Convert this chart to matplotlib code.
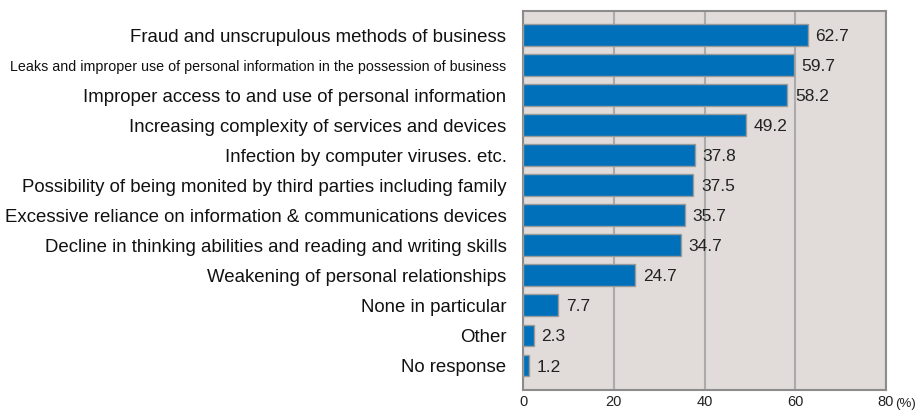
import numpy as np
import matplotlib
matplotlib.use("Agg")
import matplotlib.pyplot as plt

# ----------------------------
# data
# ----------------------------

categories = [
    "Fraud and unscrupulous methods of business",
    "Leaks and improper use of personal information in the possession of business",
    "Improper access to and use of personal information",
    "Increasing complexity of services and devices",
    "Infection by computer viruses. etc.",
    "Possibility of being monited by third parties including family",
    "Excessive reliance on information & communications devices",
    "Decline in thinking abilities and reading and writing skills",
    "Weakening of personal relationships",
    "None in particular",
    "Other",
    "No response",
]
values = [62.7, 59.7, 58.2, 49.2, 37.8, 37.5, 35.7, 34.7, 24.7, 7.7, 2.3, 1.2]
xticks = [0, 20, 40, 60, 80]

plt.rcParams['font.family'] = ['Liberation Sans', 'DejaVu Sans']

fig = plt.figure(figsize=(9.21, 4.11), dpi=100)
ax = fig.add_axes([0.568, 0.05, 0.394, 0.923])
ax.set_facecolor("#e1dcda")

y = np.arange(len(categories))
ax.barh(y, values, height=0.73, color="#0070bb", edgecolor="#9a9a9a", linewidth=1.0, zorder=3)

for yi, v in zip(y, values):
    ax.text(v + 1.7, yi + 0.05, f"{v:.1f}", va="center", ha="left", fontsize=12.5, color="#222222", zorder=4)

ax.set_xlim(0, 80)
ax.set_ylim(len(categories) - 0.17, -0.8)
ax.set_xticks(xticks)
ax.set_xticklabels([str(t) for t in xticks], fontsize=10.5, color="#222222")
ax.tick_params(axis="x", length=0, pad=3.5)
ax.set_yticks(y)
labels = ax.set_yticklabels(categories, fontsize=13.4, color="#111111")
labels[1].set_fontsize(10.3)
ax.tick_params(axis="y", length=0, pad=12)

ax.grid(axis="x", color="#ababab", linewidth=1.5, zorder=1)
for s in ax.spines.values():
    s.set_color("#8c8c8c")
    s.set_linewidth(1.5)

ax.text(82.0, -0.036, "(%)", transform=ax.get_xaxis_transform(), fontsize=9.5,
        va="center", ha="left", color="#222222")

plt.savefig("out.png", dpi=100)
